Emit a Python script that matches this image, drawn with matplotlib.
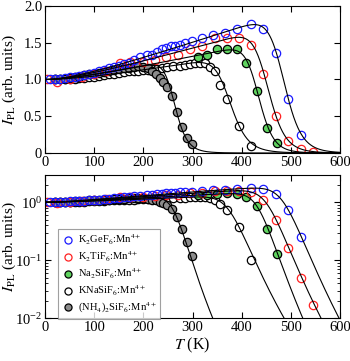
import numpy as np
import matplotlib
matplotlib.use("Agg")
import matplotlib.pyplot as plt
from matplotlib.ticker import FixedLocator, FuncFormatter, LogLocator, NullFormatter

plt.rcParams['font.family'] = ['Liberation Serif', 'DejaVu Serif']
plt.rcParams['mathtext.fontset'] = 'stix'

# ---------------- data ----------------
labels = ["K$_2$GeF$_6$:Mn$^{4+}$", "K$_2$TiF$_6$:Mn$^{4+}$", "Na$_2$SiF$_6$:Mn$^{4+}$",
          "KNaSiF$_6$:Mn$^{4+}$", "(NH$_4$)$_2$SiF$_6$:Mn$^{4+}$"]

T_ge = [10, 20, 30, 40, 50, 60, 70, 80, 90, 100, 110, 120, 130, 140, 150, 160, 170, 180,
        193, 207, 217, 227, 237, 246, 256, 264, 275, 285, 298, 319, 342, 366, 391, 420,
        444, 470, 495, 520]
I_ge = [1.00, 1.00, 1.01, 1.02, 1.03, 1.04, 1.05, 1.06, 1.08, 1.09, 1.11, 1.13, 1.15, 1.17,
        1.19, 1.21, 1.23, 1.26, 1.30, 1.33, 1.34, 1.38, 1.41, 1.43, 1.45, 1.46, 1.47, 1.50,
        1.52, 1.56, 1.60, 1.63, 1.69, 1.75, 1.69, 1.36, 0.73, 0.25]

T_ti = [5, 25, 50, 75, 100, 125, 152, 173, 200, 224, 247, 270, 295, 320, 346, 370, 395,
        420, 444, 470, 495, 520, 546]
I_ti = [1.00, 0.97, 1.01, 1.04, 1.08, 1.12, 1.22, 1.24, 1.24, 1.27, 1.31, 1.33, 1.42, 1.45,
        1.57, 1.57, 1.56, 1.47, 1.08, 0.50, 0.16, 0.05, 0.017]

T_na = [312, 330, 350, 371, 390, 409, 431, 451, 471]
I_na = [1.31, 1.34, 1.41, 1.42, 1.41, 1.23, 0.85, 0.34, 0.13]

T_kna = [20, 30, 40, 50, 60, 70, 80, 90, 100, 110, 120, 130, 140, 150, 160, 170, 180, 190,
         200, 210, 220, 228, 237, 248, 261, 275, 285, 295, 305, 315, 325, 336, 346, 356,
         370, 395, 420]
I_kna = [1.00, 1.00, 1.00, 1.01, 1.01, 1.02, 1.02, 1.03, 1.04, 1.05, 1.06, 1.07, 1.08, 1.09,
         1.10, 1.11, 1.11, 1.12, 1.13, 1.13, 1.14, 1.14, 1.15, 1.17, 1.18, 1.19, 1.20, 1.21,
         1.22, 1.23, 1.22, 1.17, 1.11, 0.93, 0.73, 0.37, 0.10]

T_nh4 = [20, 30, 40, 50, 60, 70, 80, 90, 100, 110, 120, 130, 140, 150, 160, 170, 180, 190,
         200, 210, 217, 226, 234, 241, 248, 258, 268, 278, 288, 298]
I_nh4 = [1.00, 1.00, 1.01, 1.02, 1.03, 1.04, 1.06, 1.07, 1.08, 1.09, 1.10, 1.11, 1.13, 1.14,
         1.15, 1.16, 1.17, 1.18, 1.17, 1.15, 1.11, 1.07, 1.02, 0.97, 0.90, 0.77, 0.56, 0.35,
         0.21, 0.12]

# fit-curve parameters: I = (1 + s*T^2/(T+T0)) / (1 + exp(E/k*(1/Th - 1/T)))
fit_s = [0.00225, 0.0019, 0.0014, 0.00115, 0.0014]
fit_T0 = [100, 100, 100, 150, 100]
fit_Ek = [14000, 12500, 13000, 8400, 5800]
fit_Th = [486.6, 454.5, 435.2, 378.0, 264.7]

series_T = [T_ge, T_ti, T_na, T_kna, T_nh4]
series_I = [I_ge, I_ti, I_na, I_kna, I_nh4]
edge_colors = ['#1a1aff', '#ff2020', 'black', 'black', 'black']
face_colors = ['none', 'none', '#5fd35f', 'white', '#8c8c8c']

x_ticks = [0, 100, 200, 300, 400, 500, 600]
y_ticks_lin = [0, 0.5, 1.0, 1.5, 2.0]

# ---------------- figure ----------------
fig = plt.figure(figsize=(3.5, 3.61), dpi=100)
ax1 = fig.add_axes([0.1286, 0.5762, 0.8428, 0.4072])
ax2 = fig.add_axes([0.1286, 0.1183, 0.8428, 0.3983])

Tc = np.linspace(1, 600, 1200)

def fitcurve(i):
    num = 1 + fit_s[i] * Tc ** 2 / (Tc + fit_T0[i])
    return num / (1 + np.exp(fit_Ek[i] * (1.0 / fit_Th[i] - 1.0 / Tc)))

for ax in (ax1, ax2):
    order = [3, 4, 2, 1, 0]
    handles = {}
    for i in order:
        h, = ax.plot(series_T[i], series_I[i], linestyle='none', marker='o', ms=6.0,
                     mfc=face_colors[i], mec=edge_colors[i], mew=0.9,
                     zorder=2 + order.index(i) * 0.1, label=labels[i])
        handles[i] = h
    for i in range(5):
        ax.plot(Tc, fitcurve(i), color='black', lw=0.8, zorder=5)
    ax.set_xlim(0, 600)
    ax.xaxis.set_major_locator(FixedLocator(x_ticks))
    ax.tick_params(direction='in', top=True, right=True, labelsize=10.5, length=4, width=0.8,
                   pad=2)
    ax.tick_params(which='minor', direction='in', top=True, right=True, length=2, width=0.6)
    for sp in ax.spines.values():
        sp.set_linewidth(0.8)
    ax.set_ylabel("$I_{\\rm PL}$ (arb. units)", fontsize=11)
    ax.yaxis.set_label_coords(-0.093, 0.5)

ax1.set_ylim(0, 2.0)
ax1.yaxis.set_major_locator(FixedLocator(y_ticks_lin))
ax1.yaxis.set_major_formatter(FuncFormatter(lambda v, p: "0" if v == 0 else f"{v:.1f}"))

ax2.set_yscale('log')
ax2.set_ylim(0.01, 3.0)
ax2.yaxis.set_minor_locator(LogLocator(base=10, subs=np.arange(2, 10)))
ax2.yaxis.set_minor_formatter(NullFormatter())
ax2.set_xlabel("$T$ (K)", fontsize=11.5, labelpad=1)

leg = ax2.legend(handles=[handles[i] for i in range(5)], loc='upper left',
                 bbox_to_anchor=(0.044, 0.62), fontsize=7.6, frameon=True, fancybox=False,
                 edgecolor='#888888', handletextpad=0.3, borderpad=0.35, labelspacing=0.25,
                 handlelength=1.2, borderaxespad=0, markerscale=0.85)
leg.get_frame().set_linewidth(0.8)

fig.savefig("out.png", dpi=100)
